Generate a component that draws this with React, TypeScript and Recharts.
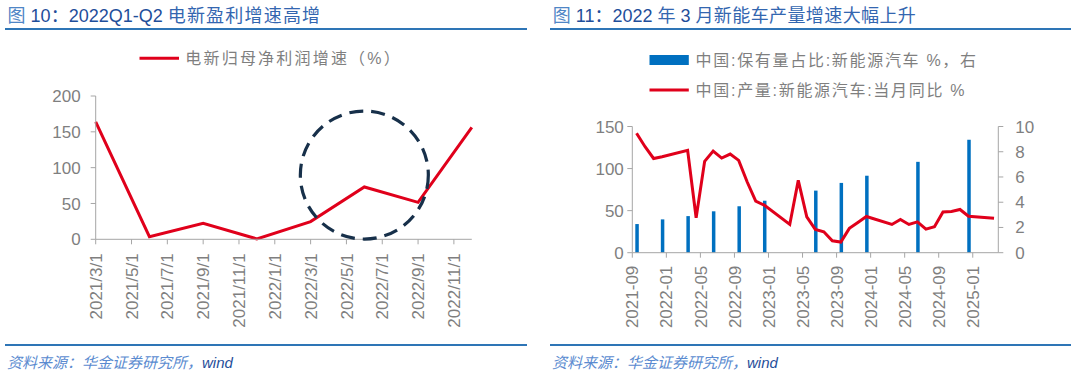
import React from "react";
import {
  LineChart,
  ComposedChart,
  Line,
  Bar,
  XAxis,
  YAxis,
  ReferenceDot,
} from "recharts";

// 图10：电新归母净利润增速（%），季度
const profitMonths = ["2021-03", "2021-06", "2021-09", "2021-12", "2022-03", "2022-06", "2022-09", "2022-12"];
const profitGrowth = [164, 3.7, 22.3, 0.5, 24.7, 73, 51.6, 156.3];
const profitTickLabels = [
  "2021/3/1", "2021/5/1", "2021/7/1", "2021/9/1", "2021/11/1", "2022/1/1",
  "2022/3/1", "2022/5/1", "2022/7/1", "2022/9/1", "2022/11/1",
];
const profitYTicks = [0, 50, 100, 150, 200];

// 图11：新能源汽车产量当月同比（%）与保有量占比（%，右轴）
const prodMonths = [
  "2021-09", "2021-10", "2021-11", "2021-12",
  "2022-01", "2022-02", "2022-03", "2022-04", "2022-05", "2022-06",
  "2022-07", "2022-08", "2022-09", "2022-10", "2022-11", "2022-12",
  "2023-01", "2023-02", "2023-03", "2023-04", "2023-05", "2023-06",
  "2023-07", "2023-08", "2023-09", "2023-10", "2023-11", "2023-12",
  "2024-01", "2024-02", "2024-03", "2024-04", "2024-05", "2024-06",
  "2024-07", "2024-08", "2024-09", "2024-10", "2024-11", "2024-12",
  "2025-01", "2025-02", "2025-03",
];
const prodYoY: (number | null)[] = [
  142, 126, 112, 114,
  null, null, 121.6, 41.5, 108.6, 120.8,
  112.5, 117.2, 109.7, 84, 61.2, 56.5,
  null, null, 33.6, 86, 42.6, 27.7,
  24.9, 14.2, 12.7, 28.9, 36, 43,
  null, null, 33.6, 39.5, 33.6, 36.7,
  28, 30.8, 48.5, 49, 51.4, 43.4,
  null, null, 41,
];
const shareMonths = ["2021-09", "2021-12", "2022-03", "2022-06", "2022-09", "2022-12", "2023-06", "2023-09", "2023-12", "2024-06", "2024-12"];
const shareValues = [2.27, 2.64, 2.9, 3.28, 3.68, 4.12, 4.92, 5.53, 6.1, 7.2, 8.95];
const prodTickLabels = [
  "2021-09", "2022-01", "2022-05", "2022-09", "2023-01", "2023-05",
  "2023-09", "2024-01", "2024-05", "2024-09", "2025-01",
];
const prodYTicks = [0, 50, 100, 150];
const shareYTicks = [0, 2, 4, 6, 8, 10];

// 虚线圈标注（图10）
const circleMonth = "2022-06";
const circleValue = 89.7;

const FONT = "'Liberation Sans', Arial, 'Noto Sans CJK SC', sans-serif";
const RED = "#e0001b";
const BLUE = "#0070c0";
const AXIS = "#a6a6a6";
const TICK = "#7f7f7f";
const RULE = "#2e75b6";

const monthIndex = (m: string, base: string) => {
  const [y, mo] = m.split("-").map(Number);
  const [by, bm] = base.split("-").map(Number);
  return (y - by) * 12 + (mo - bm);
};

const profitData = profitMonths.map((m, i) => ({
  x: monthIndex(m, "2021-03"),
  growth: profitGrowth[i],
}));

const prodData = prodMonths.map((m, i) => {
  const k = shareMonths.indexOf(m);
  return { x: i + 0.5, yoy: prodYoY[i], share: k >= 0 ? shareValues[k] : null };
});

function RotatedTick(props: any) {
  const { x, y, payload, labels, step } = props;
  const label = labels[Math.round(payload.value / step)];
  return (
    <text
      x={x}
      y={y}
      transform={`rotate(-90 ${x} ${y})`}
      textAnchor="end"
      dy="0.36em"
      fill={TICK}
      fontSize={17}
    >
      {label}
    </text>
  );
}

function ProfitChart() {
  return (
    <LineChart
      width={540}
      height={377}
      data={profitData}
      margin={{ top: 96, right: 68.2, bottom: 0, left: 0 }}
      style={{ position: "absolute", left: 0, top: 0 }}
    >
      <XAxis
        dataKey="x"
        type="number"
        domain={[0, 21]}
        ticks={profitTickLabels.map((_, i) => i * 2)}
        height={137.7}
        stroke={AXIS}
        tickSize={5}
        tickMargin={9}
        tick={(p: any) => <RotatedTick {...p} labels={profitTickLabels} step={2} />}
      />
      <YAxis
        type="number"
        domain={[0, 200]}
        ticks={profitYTicks}
        width={95.7}
        stroke={AXIS}
        tickSize={5}
        tickMargin={10}
        tick={{ fill: TICK, fontSize: 17 }}
      />
      <Line
        dataKey="growth"
        stroke={RED}
        strokeWidth={3}
        dot={false}
        isAnimationActive={false}
      />
      <ReferenceDot
        x={monthIndex(circleMonth, "2021-03")}
        y={circleValue}
        r={64}
        fill="none"
        stroke="#17304a"
        strokeWidth={3.2}
        strokeDasharray="14 8"
        ifOverflow="visible"
      />
    </LineChart>
  );
}

function ProductionChart() {
  return (
    <ComposedChart
      width={540}
      height={377}
      data={prodData}
      margin={{ top: 126.5, right: 0, bottom: 0, left: 0 }}
      style={{ position: "absolute", left: 540, top: 0 }}
    >
      <XAxis
        dataKey="x"
        type="number"
        domain={[0, 43]}
        ticks={prodTickLabels.map((_, i) => i * 4)}
        height={124.3}
        stroke={AXIS}
        tickSize={5}
        tickMargin={8}
        tick={(p: any) => <RotatedTick {...p} labels={prodTickLabels} step={4} />}
      />
      <YAxis
        yAxisId="left"
        type="number"
        domain={[0, 150]}
        ticks={prodYTicks}
        width={92.3}
        stroke={AXIS}
        tickSize={5}
        tickMargin={3.5}
        tick={{ fill: TICK, fontSize: 17 }}
      />
      <YAxis
        yAxisId="right"
        orientation="right"
        type="number"
        domain={[0, 10]}
        ticks={shareYTicks}
        width={81.7}
        stroke={AXIS}
        tickSize={5}
        tickMargin={12}
        tick={{ fill: TICK, fontSize: 17, textAnchor: "start" }}
      />
      <Bar
        yAxisId="right"
        dataKey="share"
        fill={BLUE}
        barSize={3.5}
        isAnimationActive={false}
      />
      <Line
        yAxisId="left"
        dataKey="yoy"
        stroke={RED}
        strokeWidth={3}
        dot={false}
        connectNulls
        isAnimationActive={false}
      />
    </ComposedChart>
  );
}

function Frame() {
  const cjkLight = "#4f86c6";
  const dark = "#1f4e9a";
  const mid = "#3366b0";
  return (
    <svg
      width={1080}
      height={377}
      style={{ position: "absolute", left: 0, top: 0, pointerEvents: "none" }}
    >
      <text x={7.6} y={21.5} fontSize={18}>
        <tspan fill={cjkLight}>图 </tspan>
        <tspan fill={dark}>10：2022Q1-Q2 </tspan>
        <tspan fill={mid} letterSpacing={1.2}>电新盈利增速高增</tspan>
      </text>
      <text x={552.7} y={21.5} fontSize={18}>
        <tspan fill={cjkLight}>图 </tspan>
        <tspan fill={dark}>11：2022 </tspan>
        <tspan fill={mid}>年 </tspan>
        <tspan fill={dark}>3 </tspan>
        <tspan fill={mid} letterSpacing={0.4}>月新能车产量增速大幅上升</tspan>
      </text>
      <line x1={5} x2={527} y1={29} y2={29} stroke={RULE} strokeWidth={2} />
      <line x1={550} x2={1071} y1={29} y2={29} stroke={RULE} strokeWidth={2} />
      <line x1={5} x2={527} y1={345} y2={345} stroke={RULE} strokeWidth={2} />
      <line x1={550} x2={1071} y1={345} y2={345} stroke={RULE} strokeWidth={2} />

      {/* legends */}
      <line x1={139.5} x2={179} y1={58.3} y2={58.3} stroke={RED} strokeWidth={3} />
      <text x={185.3} y={64} fontSize={16} letterSpacing={2.2} fill={TICK}>
        电新归母净利润增速（%）
      </text>
      <rect x={649.5} y={55} width={39.3} height={10} fill={BLUE} />
      <text x={695.6} y={65.6} fontSize={16} letterSpacing={1.7} fill={TICK}>
        中国:保有量占比:新能源汽车 %，右
      </text>
      <line x1={649.5} x2={688.8} y1={90} y2={90} stroke={RED} strokeWidth={3} />
      <text x={695.6} y={95.6} fontSize={16} letterSpacing={1.7} fill={TICK}>
        中国:产量:新能源汽车:当月同比 %
      </text>

      {/* sources */}
      <text x={7} y={368} fontSize={15} fontStyle="italic">
        <tspan fill="#5b8bd0">资料来源：华金证券研究所，</tspan>
        <tspan fill={dark}>wind</tspan>
      </text>
      <text x={552} y={368} fontSize={15} fontStyle="italic">
        <tspan fill="#5b8bd0">资料来源：华金证券研究所，</tspan>
        <tspan fill={dark}>wind</tspan>
      </text>
    </svg>
  );
}

export default function App() {
  return (
    <div
      style={{
        position: "absolute",
        left: 0,
        top: 0,
        width: 1080,
        height: 377,
        background: "#ffffff",
        fontFamily: FONT,
      }}
    >
      <ProfitChart />
      <ProductionChart />
      <Frame />
    </div>
  );
}
